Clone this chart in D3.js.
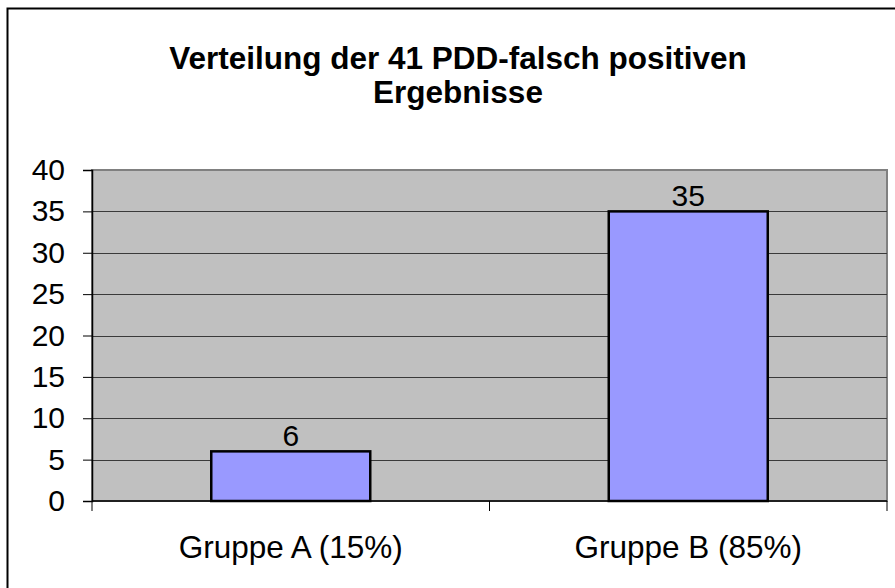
<!DOCTYPE html>
<html>
<head>
<meta charset="utf-8">
<script src="https://cdn.jsdelivr.net/npm/d3@7"></script>
<style>
  html, body { margin: 0; padding: 0; background: #fff; }
  svg { display: block; font-family: "Liberation Sans", Arial, sans-serif; }
</style>
</head>
<body>
<svg id="chart" width="895" height="588"></svg>
<script>
// Chart data
const categories = ["Gruppe A (15%)", "Gruppe B (85%)"];
const values = [6, 35];
const yTicks = [0, 5, 10, 15, 20, 25, 30, 35, 40];
const titleLines = ["Verteilung der 41 PDD-falsch positiven", "Ergebnisse"];

const svg = d3.select("#chart");
const W = 895, H = 588;
const plot = { left: 92, right: 887, top: 170, bottom: 501 };
const FONT = "Liberation Sans, Arial, sans-serif";

// Outer chart frame (extends past the right/bottom edge)
svg.append("rect")
  .attr("x", 7.5).attr("y", 8.5)
  .attr("width", W + 20).attr("height", H + 20)
  .attr("fill", "#fff").attr("stroke", "#000").attr("stroke-width", 2);

// Title
svg.append("text")
  .attr("text-anchor", "middle")
  .attr("font-weight", "bold").attr("font-size", 31.5)
  .selectAll("tspan").data(titleLines).join("tspan")
  .attr("x", 458).attr("y", (d, i) => 69 + i * 34)
  .text(d => d);

const x = d3.scaleBand().domain(categories).range([plot.left, plot.right]).padding(0);
const y = d3.scaleLinear().domain([0, 40]).range([plot.bottom, plot.top]);

// Plot background
svg.append("rect")
  .attr("x", plot.left).attr("y", plot.top)
  .attr("width", plot.right - plot.left).attr("height", plot.bottom - plot.top)
  .attr("fill", "#c0c0c0").attr("stroke", "#808080").attr("stroke-width", 2);

// Horizontal gridlines
svg.append("g").selectAll("line").data(yTicks.filter(t => t > 0 && t < 40)).join("line")
  .attr("x1", plot.left).attr("x2", plot.right)
  .attr("y1", d => Math.round(y(d)) + 0.5).attr("y2", d => Math.round(y(d)) + 0.5)
  .attr("stroke", "#3a3a3a").attr("stroke-width", 1);

// Bars
const barW = x.bandwidth() * 0.4;
svg.append("g").selectAll("rect").data(values).join("rect")
  .attr("x", (d, i) => x(categories[i]) + x.bandwidth() / 2 - barW / 2)
  .attr("y", d => y(d))
  .attr("width", barW)
  .attr("height", d => y(0) - y(d))
  .attr("fill", "#9999ff").attr("stroke", "#000").attr("stroke-width", 2.5);

// Value labels
svg.append("g").selectAll("text").data(values).join("text")
  .attr("x", (d, i) => x(categories[i]) + x.bandwidth() / 2)
  .attr("y", d => y(d) - 5)
  .attr("text-anchor", "middle").attr("font-size", 30).attr("fill", "#000")
  .text(d => d);

// Y axis
const yAxis = d3.axisLeft(y).tickValues(yTicks).tickSize(9).tickPadding(18);
const gy = svg.append("g").attr("transform", `translate(${plot.left},0)`).call(yAxis);
gy.select(".domain").attr("stroke", "#000").attr("stroke-width", 1.5);
gy.selectAll(".tick line").attr("stroke", "#000");
gy.selectAll(".tick text").attr("font-size", 30).attr("font-family", FONT).attr("fill", "#000");

// X axis: ticks sit on category boundaries
const gx = svg.append("g").attr("transform", `translate(0,${plot.bottom})`);
gx.append("line")
  .attr("x1", plot.left).attr("x2", plot.right)
  .attr("stroke", "#000").attr("stroke-width", 1.5);
const boundaries = categories.map(c => x(c)).concat([x(categories[categories.length - 1]) + x.bandwidth()]);
gx.selectAll("line.tk").data(boundaries).join("line").attr("class", "tk")
  .attr("x1", d => d).attr("x2", d => d).attr("y1", 0).attr("y2", 10)
  .attr("stroke", "#000").attr("stroke-width", 1);
gx.selectAll("text").data(categories).join("text")
  .attr("x", d => x(d) + x.bandwidth() / 2)
  .attr("y", 57)
  .attr("text-anchor", "middle").attr("font-size", 31.5).attr("fill", "#000")
  .text(d => d);
</script>
</body>
</html>
